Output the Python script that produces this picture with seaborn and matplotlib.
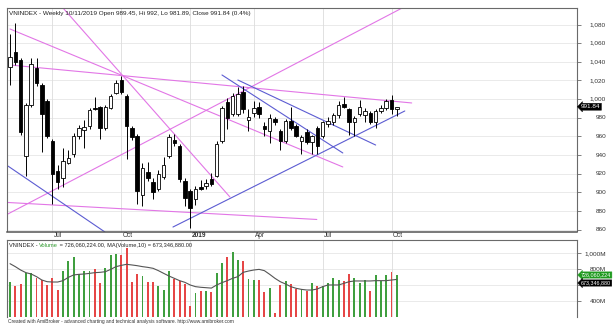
import matplotlib
matplotlib.use("Agg")
import matplotlib.pyplot as plt
import numpy as np
import pandas as pd
import seaborn as sns
from matplotlib.transforms import blended_transform_factory

# ---------------- data (weekly VNINDEX, May 2018 - Oct 2019) ----------------
opens = [1034, 1051, 1042, 939, 994, 1033, 1015, 998, 955, 923,
         915, 932, 941, 961, 967, 971, 991, 992, 969, 991,
         1007, 1020, 1003, 969, 961, 897, 922, 911, 904, 916,
         939, 956, 950, 912, 901, 893, 906, 907, 914, 918,
         955, 997, 984, 984, 1008, 978, 985, 992, 971, 966,
         979, 966, 955, 977, 971, 955, 965, 954, 969, 961,
         973, 975, 983, 995, 989, 975, 984, 982.5, 985, 975,
         987, 990, 999.5, 989.45]
highs = [1070, 1082, 1044, 996, 1044, 1044, 1017, 1000, 957, 929,
         948, 946, 964, 972, 978, 991, 1002, 993, 994, 1006,
         1021, 1025, 1005, 971, 963, 931, 933, 915, 924, 938,
         963, 963, 952, 915, 904, 907, 913, 914, 921, 955,
         993, 1001, 1007, 1013, 1014, 989, 998, 997, 976, 984,
         981, 968, 979, 992, 973, 962, 968, 962, 971, 977,
         981, 985, 998, 1002, 991, 982, 999, 990, 987, 989,
         994, 1000, 1004, 992]
lows = [1015, 1037, 962, 918, 992, 1014, 943, 958, 888, 904,
        906, 930, 938, 957, 948, 968, 988, 957, 967, 989,
        1005, 1006, 936, 956, 888, 885, 912, 893, 902, 914,
        937, 950, 911, 885, 862, 886, 903, 904, 907, 916,
        953, 968, 982, 982, 985, 966, 981, 980, 961, 953,
        972, 946, 953, 967, 959, 941, 952, 941, 941, 958,
        970, 972, 980, 990, 962, 961, 982, 975, 973, 969,
        985, 988, 984, 981.89]
closes = [1045, 1040, 965, 994, 1038, 1017, 984, 961, 920, 911,
          934, 937, 961, 969, 970, 988, 989, 969, 992, 1003,
          1017, 1008, 971, 959, 902, 926, 915, 900, 920, 929,
          959, 953, 914, 894, 883, 904, 904, 910, 909, 952,
          991, 980, 1003, 1005, 989, 981, 990, 984, 968, 980,
          975, 955, 977, 969, 961, 959, 954, 960, 950, 975,
          977, 983, 994, 992, 975, 980, 992, 987, 975, 987,
          991, 998, 989, 991.84]
volumes_m = [645, 591, 616, 749, 749, 687, 666, 603, 687, 541,
             778, 908, 958, 741, 783, 783, 799, 624, 812, 979,
             991, 979, 1062, 637, 741, 720, 637, 637, 591, 541,
             783, 674, 658, 612, 345, 508, 531, 533, 512, 758,
             883, 958, 1012, 916, 904, 678, 666, 666, 516, 562,
             258, 604, 658, 616, 554, 549, 529, 633, 595, 595,
             633, 687, 666, 654, 741, 687, 624, 666, 533, 729,
             658, 729, 762, 726.06]
vol_ma10_m = [870, 833, 791, 758, 741, 708, 666, 645, 641, 641,
              658, 699, 729, 737, 741, 749, 758, 762, 770, 799,
              833, 849, 862, 854, 845, 833, 824, 812, 783, 749,
              716, 687, 658, 637, 604, 583, 575, 570, 565, 604,
              633, 658, 687, 708, 762, 778, 791, 799, 783, 737,
              687, 645, 616, 583, 562, 549, 541, 541, 554, 583,
              604, 604, 604, 624, 645, 654, 654, 654, 654, 658,
              658, 658, 666, 673.35]

date_tick_pos = [8, 21, 34, 46, 59, 72]
date_tick_labels = ["Jul", "Oct", "2019", "Apr", "Jul", "Oct"]
price_ticks = [860, 880, 900, 920, 940, 960, 980, 1000, 1020, 1040, 1060, 1080]
price_tick_labels = ["860", "880", "900", "920", "940", "960", "980",
                     "1,000", "1,020", "1,040", "1,060", "1,080"]
vol_ticks = [400, 600, 800, 1000]
vol_tick_labels = ["400M", "", "800M", "1,000M"]

# trend lines: ((bar index, price), (bar index, price))
magenta_lines = [((0.0, 1075.2), (62.8, 927.3)),
                 ((10.0, 1097.7), (41.5, 895.1)),
                 ((0.0, 1036.6), (75.8, 995.9)),
                 ((-0.4, 876.9), (74.0, 1097.7)),
                 ((-0.4, 889.2), (57.9, 871.0))]
blue_lines = [((-0.4, 928.3), (17.9, 857.6)),
              ((30.75, 862.9), (74.5, 987.3)),
              ((40.0, 1025.9), (62.8, 942.3)),
              ((43.0, 1020.5), (69.0, 950.8))]

title_text = "VNINDEX - Weekly 10/11/2019 Open 989.45, Hi 992, Lo 981.89, Close 991.84 (0.4%)"
last_close_label = "991.84"
vol_label = "726,060,224"
ma_label = "673,346,880"
footer_text = ("Created with AmiBroker - advanced charting and technical analysis "
               "software. http://www.amibroker.com")

# ---------------- style ----------------
sns.set_style("white")
plt.rcParams["font.family"] = ["Liberation Sans", "Noto Sans CJK SC", "DejaVu Sans"]

W, H = 614, 336
fig = plt.figure(figsize=(W / 100, H / 100), dpi=100)
fig.patch.set_facecolor("white")


def px_axes(x0, y0, x1, y1):
    return fig.add_axes([x0 / W, 1 - y1 / H, (x1 - x0) / W, (y1 - y0) / H])


ax = px_axes(7, 8, 577, 231.5)
axv = px_axes(7, 240, 577, 317)

idx = np.arange(len(closes))
df = pd.DataFrame({"i": idx, "open": opens, "high": highs, "low": lows,
                   "close": closes, "vol": volumes_m, "ma": vol_ma10_m})
up = df["close"] >= df["open"]

GREEN = "#3f9f3f"
RED = "#e64646"
MAG = "#e276e6"
BLUE = "#5c5cd2"
GRID = "#e6e6e6"
SPINE = "#6a6a6a"

xlim = (-0.57, 107.0)

# ---------------- price panel ----------------
for p in price_ticks:
    ax.axhline(p, color=GRID, lw=0.6, zorder=0)
for xp in date_tick_pos:
    ax.axvline(xp, color="#dcdcdc", lw=0.6, zorder=0)

for (x0, y0), (x1, y1) in magenta_lines:
    ax.plot([x0, x1], [y0, y1], color=MAG, lw=0.8, zorder=1)
for (x0, y0), (x1, y1) in blue_lines:
    ax.plot([x0, x1], [y0, y1], color=BLUE, lw=0.8, zorder=1)

ax.vlines(df["i"], df["low"], df["high"], color="black", lw=0.7, zorder=2)
body_bottom = np.minimum(df["open"], df["close"])
body_h = np.maximum(np.abs(df["close"] - df["open"]), 0.8)
ax.bar(df["i"], body_h, bottom=body_bottom, width=0.66,
       color=np.where(up, "white", "black"), edgecolor="black", linewidth=0.6, zorder=3)

ax.set_xlim(*xlim)
ax.set_ylim(858.1, 1097.7)
ax.yaxis.tick_right()
ax.set_yticks(price_ticks)
ax.set_xticks(date_tick_pos)
ax.tick_params(axis="y", length=3, width=0.6, color=SPINE, labelright=False, labelleft=False)
ax.tick_params(axis="x", length=2.5, width=0.6, color=SPINE, direction="out",
               labelbottom=False)
for s in ["left", "top", "right"]:
    ax.spines[s].set_color(SPINE)
    ax.spines[s].set_linewidth(0.8)
    ax.spines[s].set_visible(True)
ax.spines["bottom"].set_color("#555555")
ax.spines["bottom"].set_linewidth(1.1)
ax.spines["bottom"].set_visible(True)

ty = blended_transform_factory(fig.transFigure, ax.transData)
for p, lab in zip(price_ticks, price_tick_labels):
    ax.text(606 / W, p, lab, transform=ty, ha="right", va="center",
            fontsize=4.6, color="#333333", clip_on=False)

tx = blended_transform_factory(ax.transData, fig.transFigure)
for xp, lab in zip(date_tick_pos, date_tick_labels):
    ax.text(xp + 0.25, 1 - 235.8 / H, lab, transform=tx, ha="left", va="center",
            fontsize=4.7, color="#333333",
            fontweight="bold" if lab == "2019" else "normal", clip_on=False)

fig.text(9 / W, 1 - 13 / H, title_text, ha="left", va="center",
         fontsize=4.6, color="#222222")

ax.text(581 / W, closes[-1], last_close_label, transform=ty, ha="left", va="center",
        fontsize=4.6, color="white", clip_on=False,
        bbox=dict(boxstyle="larrow,pad=0.15", fc="black", ec="black", lw=0.3))

# ---------------- volume panel ----------------
for v in vol_ticks:
    axv.axhline(v, color=GRID, lw=0.6, zorder=0)
for xp in date_tick_pos:
    axv.axvline(xp, color="#dcdcdc", lw=0.6, zorder=0)

axv.bar(df["i"], df["vol"], width=0.36, color=np.where(up, GREEN, RED),
        edgecolor="none", zorder=2)
sns.lineplot(data=df, x="i", y="ma", ax=axv, color="#555555", lw=0.8, zorder=3,
             legend=False)

axv.set_xlim(*xlim)
axv.set_ylim(203.75, 1166)
axv.set_xlabel("")
axv.set_ylabel("")
axv.yaxis.tick_right()
axv.set_yticks(vol_ticks)
axv.set_xticks([])
axv.tick_params(axis="y", length=3, width=0.6, color=SPINE, labelright=False, labelleft=False)
for s in ["left", "top", "right"]:
    axv.spines[s].set_color(SPINE)
    axv.spines[s].set_linewidth(0.8)
    axv.spines[s].set_visible(True)
axv.spines["bottom"].set_visible(False)

tyv = blended_transform_factory(fig.transFigure, axv.transData)
for v, lab in zip(vol_ticks, vol_tick_labels):
    if lab:
        axv.text(606 / W, v, lab, transform=tyv, ha="right", va="center",
                 fontsize=4.6, color="#333333", clip_on=False)

fig.text(581 / W, 1 - 275 / H, vol_label, ha="left", va="center",
         fontsize=3.9, color="white",
         bbox=dict(boxstyle="larrow,pad=0.12", fc="#1f9a1f", ec="#1f9a1f", lw=0.3))
fig.text(581 / W, 1 - 283 / H, ma_label, ha="left", va="center",
         fontsize=3.9, color="white",
         bbox=dict(boxstyle="larrow,pad=0.12", fc="black", ec="black", lw=0.3))

# volume title with coloured "Volume"
renderer = fig.canvas.get_renderer()
parts = [("VNINDEX - ", "#222222"), ("Volume", "#2e9a2e"),
         (" = 726,060,224.00, MA(Volume,10) = 673,346,880.00", "#222222")]
xcur = 9
for txt, col in parts:
    t = fig.text(xcur / W, 1 - 245.5 / H, txt, ha="left", va="center",
                 fontsize=4.05, color=col)
    bb = t.get_window_extent(renderer=renderer)
    xcur += bb.width

fig.text(8 / W, 1 - 321 / H, footer_text, ha="left", va="center",
         fontsize=3.55, color="#333333")

fig.savefig("out.png", dpi=100, facecolor="white")
